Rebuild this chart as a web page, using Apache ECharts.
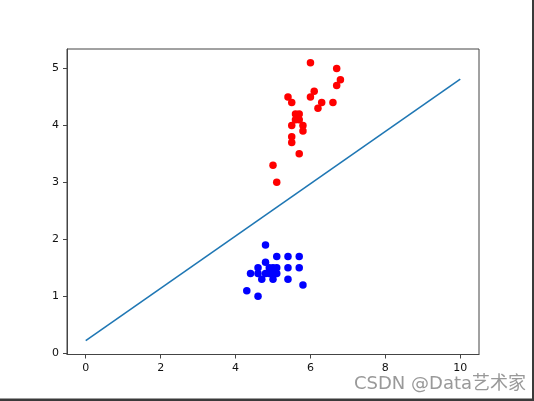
<!DOCTYPE html>
<html>
<head>
<meta charset="utf-8">
<script src="https://cdn.jsdelivr.net/npm/echarts@6/dist/echarts.min.js"></script>
<style>
html,body{margin:0;padding:0;background:#fff;}
#c{width:534px;height:401px;}
</style>
</head>
<body>
<div id="c"></div>
<script>
// Data
const redPoints = [
  [6.0,5.1],[6.7,5.0],[6.8,4.8],[6.7,4.7],[5.4,4.5],[6.1,4.6],[6.0,4.5],
  [5.5,4.4],[6.3,4.4],[6.2,4.3],[6.6,4.4],[5.6,4.2],[5.7,4.2],[5.6,4.1],
  [5.7,4.1],[5.5,4.0],[5.8,4.0],[5.8,3.9],[5.5,3.8],[5.5,3.7],[5.7,3.5],
  [5.0,3.3],[5.1,3.0]
];
const bluePoints = [
  [4.3,1.1],[4.6,1.0],[4.4,1.4],[4.6,1.4],[4.6,1.5],[4.7,1.3],[4.8,1.4],
  [4.8,1.6],[4.8,1.9],[4.9,1.4],[4.9,1.5],[5.0,1.4],[5.0,1.5],[5.1,1.4],
  [5.1,1.5],[5.1,1.7],[5.4,1.7],[5.4,1.5],[5.4,1.3],[5.7,1.7],[5.7,1.5],
  [5.8,1.2],[5.0,1.3]
];
const lineX = [0, 10];
const lineY = [0.224, 4.81];
const xTicks = [0, 2, 4, 6, 8, 10];
const yTicks = [0, 1, 2, 3, 4, 5];

const linePoints = lineX.map((x, i) => [x, lineY[i]]);

const chart = echarts.init(document.getElementById('c'), null, {renderer: 'canvas'});
const labelStyle = {color: '#111', fontFamily: 'DejaVu Sans', fontSize: 11};
chart.setOption({
  animation: false,
  backgroundColor: '#fff',
  grid: {left: 67, right: 55, top: 49, bottom: 46.5, show: true,
         borderColor: '#444', borderWidth: 1, backgroundColor: 'transparent'},
  xAxis: {
    type: 'value', min: -0.5, max: 10.5,
    splitLine: {show: false},
    axisLine: {show: true, onZero: false, lineStyle: {color: '#444', width: 1}},
    axisTick: {show: true, customValues: xTicks, length: 4, lineStyle: {color: '#444'}},
    axisLabel: Object.assign({customValues: xTicks, margin: 8}, labelStyle)
  },
  yAxis: {
    type: 'value', min: -0.02, max: 5.34,
    splitLine: {show: false},
    axisLine: {show: true, onZero: false, lineStyle: {color: '#444', width: 1}},
    axisTick: {show: true, customValues: yTicks, length: 4, lineStyle: {color: '#444'}},
    axisLabel: Object.assign({customValues: yTicks, margin: 8}, labelStyle)
  },
  series: [
    {type: 'scatter', data: redPoints, symbolSize: 7.5,
     itemStyle: {color: '#ff0000', opacity: 1}, z: 3},
    {type: 'scatter', data: bluePoints, symbolSize: 7.5,
     itemStyle: {color: '#0000ff', opacity: 1}, z: 3},
    {type: 'line', data: linePoints, showSymbol: false, symbol: 'none',
     lineStyle: {color: '#1f77b4', width: 1.6}, z: 2}
  ],
  graphic: [
    {type: 'rect', shape: {x: 532, y: 0, width: 2, height: 401}, style: {fill: '#3a3a3a'}, z: 10},
    {type: 'rect', shape: {x: 0, y: 398.5, width: 534, height: 3}, style: {fill: '#3a3a3a'}, z: 10},
    {type: 'text', x: 354, y: 384.5, z: 10,
     style: {text: 'CSDN @Data艺术家', fill: '#999999', fontSize: 18,
             fontFamily: 'DejaVu Sans, Noto Sans CJK SC', verticalAlign: 'middle', align: 'left'}}
  ]
});
</script>
</body>
</html>
